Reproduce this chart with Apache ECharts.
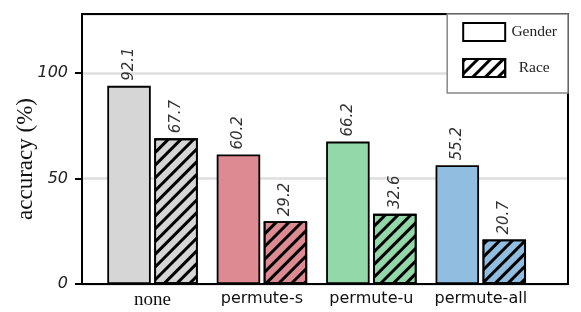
<!DOCTYPE html>
<html>
<head>
<meta charset="utf-8">
<script src="https://cdn.jsdelivr.net/npm/echarts@6/dist/echarts.min.js"></script>
<style>html,body{margin:0;padding:0;background:#fff;}#c{width:581px;height:312px;}</style>
</head>
<body>
<div id="c"></div>
<script>
var categories = ['none', 'permute-s', 'permute-u', 'permute-all'];
var genderValues = [92.1, 60.2, 66.2, 55.2];
var raceValues = [67.7, 29.2, 32.6, 20.7];
var categoryColors = ['#d6d6d6', '#de8a92', '#93d8a9', '#90bde0'];
var yTickValues = [0, 50, 100];
var seriesNames = ['Gender', 'Race'];

var chart = echarts.init(document.getElementById('c'), null, {renderer: 'canvas'});

var hatch = {
  symbol: 'rect', symbolSize: 1, color: '#000',
  dashArrayX: [1, 0], dashArrayY: [2.6, 5.2], rotation: -Math.PI / 4
};

function makeData(vals, withHatch) {
  return vals.map(function (v, i) {
    var st = {color: categoryColors[i]};
    if (withHatch) st.decal = hatch;
    return {value: v, itemStyle: st};
  });
}

var valueLabel = {
  show: true, position: 'top', rotate: 90, align: 'left', verticalAlign: 'middle',
  distance: 5, fontFamily: 'DejaVu Sans', fontStyle: 'italic', fontSize: 15, color: '#333',
  formatter: function (p) { return p.value.toFixed(1); }
};

var frameLine = {show: true, onZero: false, lineStyle: {color: '#000', width: 2}};

var option = {
  animation: false,
  backgroundColor: '#fff',
  grid: [
    {left: 82, right: 13, top: 14, bottom: 28},
    {left: 97.8, right: 45.5, top: 14, bottom: 28}
  ],
  xAxis: [
    {gridIndex: 0, type: 'value', min: 0, max: 1, position: 'bottom',
     axisLine: frameLine, axisTick: {show: false}, axisLabel: {show: false}, splitLine: {show: false}},
    {gridIndex: 0, type: 'value', min: 0, max: 1, position: 'top',
     axisLine: frameLine, axisTick: {show: false}, axisLabel: {show: false}, splitLine: {show: false}},
    {gridIndex: 1, type: 'category', data: categories,
     axisLine: {show: false}, axisTick: {show: false},
     axisLabel: {margin: 7, color: '#111',
       formatter: function (v) { return v === 'none' ? '{s|' + v + '}' : '{d|' + v + '}'; },
       rich: {
         s: {fontFamily: 'Liberation Serif', fontSize: 19, color: '#111'},
         d: {fontFamily: 'DejaVu Sans', fontSize: 16, color: '#111'}
       }}}
  ],
  yAxis: [
    {gridIndex: 0, type: 'value', min: yTickValues[0], max: 128.1, interval: yTickValues[1] - yTickValues[0],
     position: 'left',
     name: 'accuracy (%)', nameLocation: 'middle', nameGap: 45, nameMoveOverlap: false,
     nameTextStyle: {fontFamily: 'Liberation Serif', fontSize: 23, color: '#111', padding: [0, 20, 0, 0]},
     axisLine: frameLine,
     axisTick: {show: true, inside: false, length: 7, lineStyle: {color: '#000', width: 2}},
     axisLabel: {margin: 14, fontFamily: 'DejaVu Sans', fontStyle: 'italic', fontSize: 16, color: '#222',
       showMaxLabel: false},
     splitLine: {show: true, lineStyle: {color: '#dedede', width: 2.5}}},
    {gridIndex: 0, type: 'value', min: 0, max: 1, position: 'right',
     axisLine: frameLine, axisTick: {show: false}, axisLabel: {show: false}, splitLine: {show: false}},
    {gridIndex: 1, type: 'value', min: 0, max: 125.5, show: false, splitLine: {show: false}}
  ],
  legend: {
    orient: 'vertical', right: 13, top: 14, icon: 'rect',
    backgroundColor: '#fff', borderColor: '#888', borderWidth: 1.5, borderRadius: 0,
    padding: [8, 11, 15, 15], itemWidth: 42, itemHeight: 18, itemGap: 16,
    formatter: function (name) { return '{c|' + name + '}'; },
    textStyle: {fontFamily: 'Liberation Serif', fontSize: 15.5, color: '#222',
      rich: {c: {width: 48, align: 'center', fontFamily: 'Liberation Serif', fontSize: 15.5, color: '#222'}}},
    data: seriesNames
  },
  series: [
    {name: seriesNames[0], type: 'bar', xAxisIndex: 2, yAxisIndex: 2,
     barWidth: 43.5, barGap: '8%',
     itemStyle: {color: '#fff', borderColor: '#000', borderWidth: 1.8},
     label: valueLabel, data: makeData(genderValues, false)},
    {name: seriesNames[1], type: 'bar', xAxisIndex: 2, yAxisIndex: 2,
     barWidth: 43.5, barGap: '8%',
     itemStyle: {color: '#fff', borderColor: '#000', borderWidth: 1.8, decal: hatch},
     label: valueLabel, data: makeData(raceValues, true)}
  ]
};
chart.setOption(option);
</script>
</body>
</html>
